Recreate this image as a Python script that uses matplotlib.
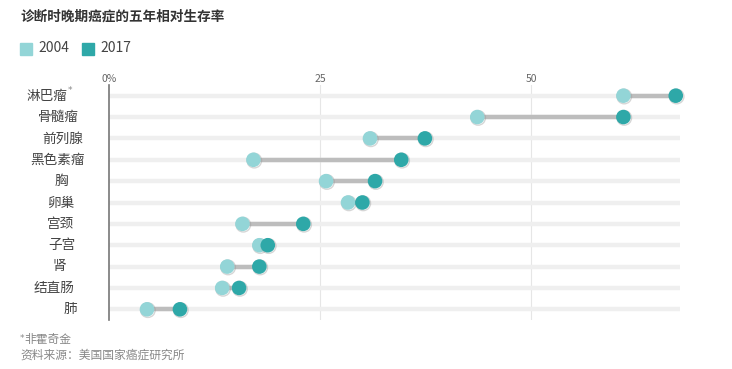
import matplotlib.pyplot as plt
import matplotlib.patheffects as pe

plt.rcParams['font.family'] = ['Noto Sans CJK SC', 'DejaVu Sans']

# 数据 ==================================================
cancers = ['淋巴瘤', '骨髓瘤', '前列腺', '黑色素瘤', '胸', '卵巢', '宫颈', '子宫', '肾', '结直肠', '肺']
rate_2004 = [60.9, 43.6, 30.9, 17.1, 25.7, 28.3, 15.8, 17.8, 14.0, 13.4, 4.5]
rate_2017 = [67.1, 60.9, 37.4, 34.6, 31.5, 30.0, 23.0, 18.8, 17.8, 15.4, 8.4]
tick_vals = [0, 25, 50]
tick_labels = ['0%', '25', '50']

c04 = '#93d5d7'
c17 = '#2ea8a8'
W, H = 732, 369

fig = plt.figure(figsize=(W / 100, H / 100), dpi=100)
ax = fig.add_axes([109 / W, 1 - 320 / H, (680 - 109) / W, (320 - 85) / H])

ys = list(range(len(cancers)))
for y, a, b in zip(ys, rate_2004, rate_2017):
    ax.plot([0, 67.6], [y, y], color='#efefef', lw=3.2, solid_capstyle='butt', zorder=1)
    ax.plot([a, b], [y, y], color='#bdbdbd', lw=3.2, zorder=2)

shadow = [pe.SimpleLineShadow(offset=(0.6, -0.6), shadow_color='#999999', alpha=0.4), pe.Normal()]
ax.plot(rate_2004, ys, 'o', color=c04, ms=10.5, mec='none', zorder=3, path_effects=shadow, clip_on=False)
ax.plot(rate_2017, ys, 'o', color=c17, ms=10.5, mec='none', zorder=4, path_effects=shadow, clip_on=False)

for v in tick_vals[1:]:
    ax.axvline(v, color='#e6e6e6', lw=0.8, zorder=0)

ax.set_xlim(0, 67.6)
ax.set_ylim(10.5, -0.5)
ax.xaxis.tick_top()
ax.set_xticks(tick_vals)
ax.set_xticklabels(tick_labels, fontsize=7.5, color='#666666')
ax.tick_params(axis='x', length=0, pad=1)
ax.set_yticks([])
for s in ['top', 'right', 'bottom']:
    ax.spines[s].set_visible(False)
ax.spines['left'].set_color('#777777')
ax.spines['left'].set_linewidth(1.2)

# 类别标签（位置参差）
label_right = [67, 79, 83, 85, 68, 74, 74, 76, 66, 74, 77]
for y, name, xr in zip(ys, cancers, label_right):
    fig.text(xr / W, 1 - (96 + y * 21.3) / H, name, ha='right', va='center',
             fontsize=9.8, color='#444444')
fig.text(67.5 / W, 1 - 91 / H, '*', ha='left', va='center', fontsize=6.5, color='#888888',
         family='DejaVu Sans')

# 标题与图例
fig.text(20 / W, 1 - 17 / H, '诊断时晚期癌症的五年相对生存率', ha='left', va='center',
         fontsize=9.8, fontweight='bold', color='#333333')
for x0, c, lab in [(20, c04, '2004'), (82, c17, '2017')]:
    fig.patches.append(plt.Rectangle((x0 / W, 1 - 55 / H), 12 / W, 12 / H,
                                     transform=fig.transFigure, color=c, figure=fig))
    fig.text((x0 + 18) / W, 1 - 48.5 / H, lab, ha='left', va='center', fontsize=10, color='#444444')

fig.text(20 / W, 1 - 338 / H, '*', ha='left', va='center', fontsize=6.5, color='#888888',
         family='DejaVu Sans')
fig.text(24 / W, 1 - 339 / H, '非霍奇金', ha='left', va='center', fontsize=8.5, color='#888888')
fig.text(20 / W, 1 - 355 / H, '资料来源：美国国家癌症研究所', ha='left', va='center', fontsize=8.5, color='#888888')

plt.savefig('out.png', dpi=100)
